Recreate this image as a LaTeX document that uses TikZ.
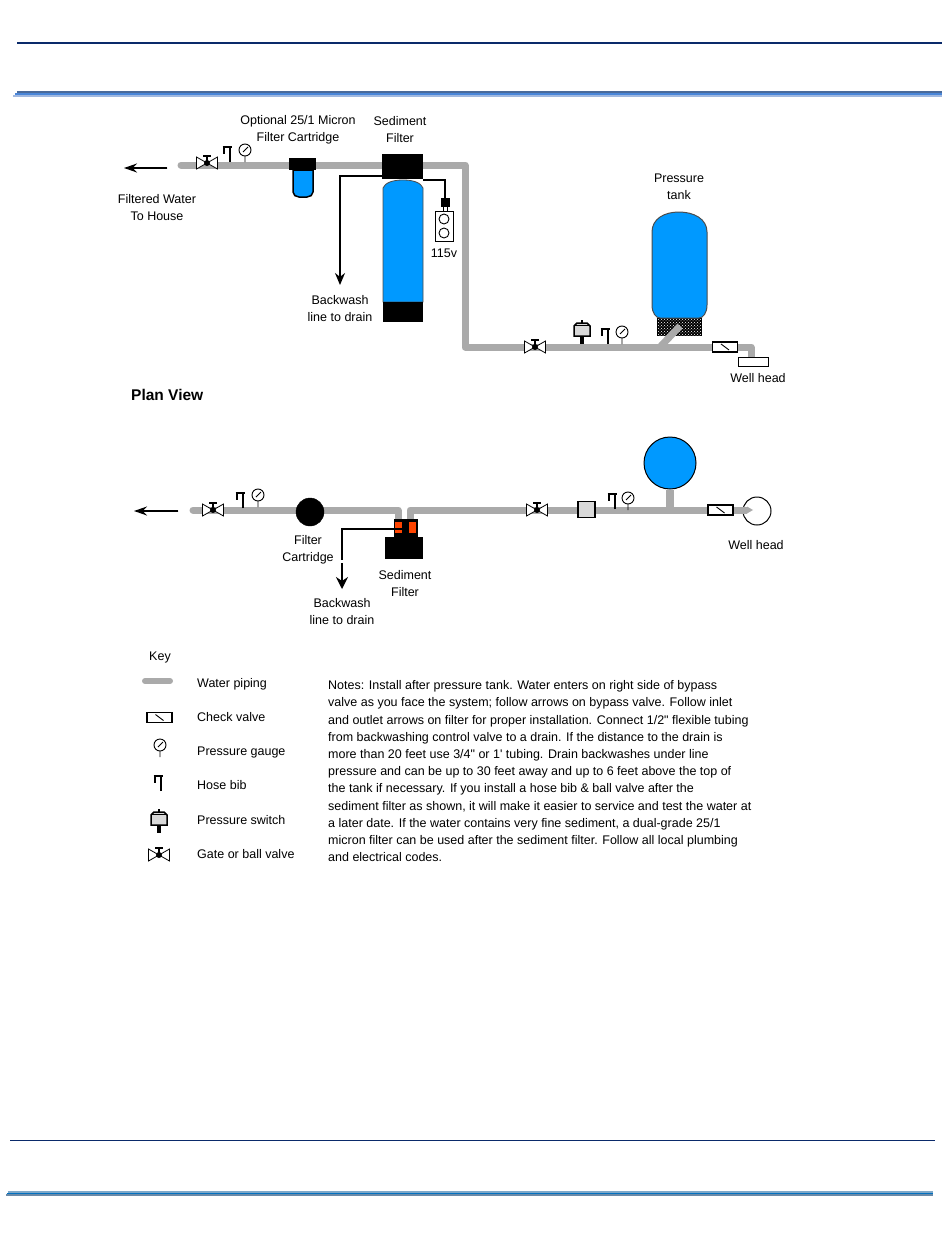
\documentclass[tikz,border=0pt]{standalone}
\usepackage{fontspec}
\setmainfont{Liberation Sans}
\newfontfamily\notefont{Liberation Sans}
\usepackage{xcolor}
\usepackage{tikz}
\usetikzlibrary{arrows.meta, patterns}
\definecolor{waterblue}{HTML}{0099FF}
\definecolor{pipegray}{HTML}{AAAAAA}
\definecolor{portred}{HTML}{FF4400}
\definecolor{navy}{HTML}{0A2A6A}
\definecolor{ruletopa}{HTML}{4A6A9A}
\definecolor{ruletopb}{HTML}{4A86D8}
\definecolor{ruletopc}{HTML}{A0B8E0}
\definecolor{rulelowa}{HTML}{7FA8C8}
\definecolor{rulelowb}{HTML}{0070C0}
\definecolor{rulelowc}{HTML}{6A8AA8}

\begin{document}
\begin{tikzpicture}[
  x=1pt, y=-1pt,
  lbl/.style={font=\fontsize{12.5}{17}\selectfont, align=center, inner sep=0pt},
  keylbl/.style={lbl, anchor=base west},
  pipe/.style={draw=pipegray, line width=7pt, line join=round, line cap=round},
  wire/.style={draw=black, line width=1.3pt},
  drain/.style={wire, -{Stealth[length=12pt,width=10pt]}},
  blackbox/.style={rectangle, fill=black, inner sep=0pt},
  gatevalve/.pic={
    \draw[black, fill=white, line width=.8pt] (-10.5,-6) -- (0,0) -- (-10.5,6) -- cycle;
    \draw[black, fill=white, line width=.8pt] (10.5,-6) -- (0,0) -- (10.5,6) -- cycle;
    \draw[black, line width=1.5pt] (-10.5,-6) -- (-10.5,6) (10.5,-6) -- (10.5,6);
    \draw[black, line width=1.2pt] (0,0) -- (0,-7) (-4,-7) -- (4,-7);
    \fill[black] (0,0) circle (3);
  },
  hosebib/.pic={
    \draw[black, line width=1.2pt] (0,0) -- (0,-15) (-7.5,-15) -- (1.5,-15) (-6,-15) -- (-6,-8);
  },
  gaugedial/.pic={
    \draw[black, line width=.9pt, fill=white] (0,0) circle (6);
    \draw[black, line width=.9pt] (0,6) -- (0,12) (-2,2) -- (3,-3);
  },
  checkvalve/.pic={
    \draw[black, line width=1.2pt, fill=white] (-12.5,-5) rectangle (12.5,5);
    \draw[black, line width=.9pt] (-4,-3) -- (4,3);
  },
  pressswitch/.pic={
    \fill[black] (-2,0) rectangle (2,-10);
    \draw[black, line width=1.5pt, fill=black!15] (-8,-8) -- (-8,-18) -- (-5,-21) -- (5,-21) -- (8,-18) -- (8,-8) -- cycle;
    \draw[black, line width=1.2pt] (-8,-18.5) -- (8,-18.5);
    \fill[black] (-1,-24) rectangle (1,-21);
  }
]
  \useasboundingbox (0,0) rectangle (950,1236);

  % page rules
  \draw[navy, line width=2pt] (17,43) -- (942,43);
  \draw[ruletopa, line width=2pt] (17,92.3) -- (942,92.3);
  \draw[ruletopb, line width=1.7pt] (15,94.2) -- (942,94.2);
  \draw[ruletopc, line width=1.7pt] (13,95.8) -- (942,95.8);
  \draw[navy, line width=1.5pt] (10,1140.5) -- (935,1140.5);
  \draw[rulelowa, line width=1.7pt] (8,1191.8) -- (933,1191.8);
  \draw[rulelowb, line width=1.4pt] (7,1193.3) -- (933,1193.3);
  \draw[rulelowc, line width=2pt] (6,1195) -- (933,1195);

  % elevation
  \coordinate (topin) at (181,165);
  \coordinate (topcorner) at (465,165);
  \coordinate (lowcorner) at (465,347);
  \coordinate (wellcorner) at (751,347);
  \coordinate (wellend) at (751,357);
  \draw[pipe] (topin) -- (topcorner) -- (lowcorner) -- (wellcorner) -- (wellend);

  \coordinate (tanktee) at (660,347);
  \coordinate (tanktap) at (680,326);
  \fill[black] (657,318) rectangle (702,336);
  \fill[pattern=crosshatch dots, pattern color=white] (658,318) rectangle (701,335);
  \draw[pipe, line cap=butt] (tanktee) -- (tanktap);
  \draw[draw=black!70, line width=1pt, fill=waterblue] (652,305) -- (652,232)
    .. controls (652,219) and (664,212) .. (679,212)
    .. controls (694,212) and (707,219) .. (707,232) -- (707,305)
    .. controls (707,313) and (703,318) .. (699,318) -- (660,318)
    .. controls (656,318) and (652,313) .. (652,305) -- cycle;

  \draw[black, line width=1.5pt, fill=waterblue] (293,170) -- (293,192)
    .. controls (293,195) and (296,197) .. (299,197) -- (307,197)
    .. controls (310,197) and (313,195) .. (313,192) -- (313,170) -- cycle;
  \node[blackbox, minimum width=27pt, minimum height=12pt] (cartridgehead) at (302.5,164) {};

  \draw[draw=black!70, line width=.8pt, fill=waterblue] (383,302) -- (383,188) .. controls (385,183) and (392,180) .. (403,180)
    .. controls (414,180) and (421,183) .. (423,188) -- (423,302) -- cycle;
  \node[blackbox, minimum width=41pt, minimum height=25pt] (sedhead) at (402.5,166.5) {};
  \node[blackbox, minimum width=40pt, minimum height=20pt] (sedbase) at (403,312) {};

  \coordinate (drainbend) at (340,176);
  \coordinate (drainend) at (340,285);
  \draw[drain] (sedhead.west |- drainbend) -- (drainbend) -- (drainend);

  \node[draw=black, fill=white, line width=1pt, minimum width=18pt, minimum height=30pt, inner sep=0pt] (outlet) at (444,226) {};
  \node[draw=black, circle, line width=.9pt, minimum size=10pt, inner sep=0pt] (socketa) at (444,219) {};
  \node[draw=black, circle, line width=.9pt, minimum size=10pt, inner sep=0pt] (socketb) at (444,233) {};
  \node[blackbox, minimum width=9pt, minimum height=9pt] (plug) at (445,202.5) {};
  \coordinate (cordbend) at (445,180);
  \draw[wire] (sedhead.south east |- cordbend) -- (cordbend) -- (plug);
  \draw[black, line width=.8pt] (443,207) -- (443,211) (447,207) -- (447,211);

  \node[blackbox, minimum width=0pt] (arrowstart) at (167,168) {};
  \coordinate (houseend) at (124,168);
  \draw[wire, -{Stealth[length=13pt,width=9pt]}] (arrowstart) -- (houseend);

  \pic at (207,163) {gatevalve};
  \pic at (230,162) {hosebib};
  \pic at (245,150) {gaugedial};
  \pic at (535,347) {gatevalve};
  \pic at (582,344) {pressswitch};
  \pic at (608,344) {hosebib};
  \pic at (622,332) {gaugedial};
  \pic at (725,347) {checkvalve};
  \node[draw=black, fill=white, line width=1.5pt, minimum width=30pt, minimum height=9pt, inner sep=0pt] (wellbox) at (753.5,362) {};

  \node[lbl] (micronlbl) at (298,130) {Optional 25/1 Micron\\Filter Cartridge};
  \node[lbl] (sedlbl) at (400,130) {Sediment\\Filter};
  \node[lbl] (houselbl) at (157,207.5) {Filtered Water\\To House};
  \node[lbl] (voltlbl) at (444,253) {115v};
  \node[lbl] (drainlbl) at (340,308.5) {Backwash\\line to drain};
  \node[lbl] (tanklbl) at (679,186.5) {Pressure\\tank};
  \node[lbl] (welllbl) at (758,378) {Well head};

  % plan view
  \node[font=\fontsize{15.5}{17}\selectfont\bfseries, anchor=west, inner sep=0pt] (planlbl) at (131,395) {Plan View};

  \coordinate (planin) at (193,510);
  \coordinate (planleftcorner) at (398,510);
  \coordinate (planleftend) at (398,522);
  \coordinate (planrightend) at (410,522);
  \coordinate (planrightcorner) at (410,510);
  \coordinate (planwell) at (753,510);
  \node[draw=black, circle, fill=white, line width=1pt, minimum size=28pt, inner sep=0pt] (planwellhead) at (757,511) {};
  \draw[pipe, line cap=butt] (planwell) ++(-6,0) -- (planrightcorner);
  \draw[pipe] (planin) -- (planleftcorner) -- (planleftend);
  \draw[pipe] (planrightend) -- (planrightcorner) -- ++(20,0);
  \fill[pipegray] (747,506.5) -- (753,510) -- (747,513.5) -- cycle;

  \node[draw=black, circle, fill=black, minimum size=28pt, inner sep=0pt] (plancartridge) at (310,512) {};
  \node[blackbox, minimum width=38pt, minimum height=22pt] (plansedbase) at (404,548) {};
  \node[blackbox, minimum width=24pt, minimum height=19pt] (plansedtop) at (406,528.5) {};
  \node[rectangle, fill=portred, minimum width=7pt, minimum height=11pt, inner sep=0pt] (planporta) at (398.5,527.5) {};
  \node[rectangle, fill=portred, minimum width=7pt, minimum height=11pt, inner sep=0pt] (planportb) at (412.5,527.5) {};
  \coordinate (planbend) at (342,529);
  \coordinate (plangapa) at (342,560);
  \coordinate (plangapb) at (342,563);
  \coordinate (plandrainend) at (342,589);
  \draw[wire] (planporta.east |- planbend) -- (planbend) -- (plangapa);
  \draw[wire, -{Stealth[length=12pt,width=12pt]}] (plangapb) -- (plandrainend);

  \node[blackbox, minimum width=0pt] (planarrowstart) at (178,511) {};
  \coordinate (planhouseend) at (134,511);
  \draw[wire, -{Stealth[length=13pt,width=9pt]}] (planarrowstart) -- (planhouseend);

  \node[draw=black, circle, fill=waterblue, line width=1pt, minimum size=52pt, inner sep=0pt] (plantank) at (670,463) {};
  \coordinate (plantee) at (670,510);
  \draw[pipegray, line width=8pt] (plantank.south) -- (plantee);
  \node[draw=black, fill=black!15, line width=1.5pt, minimum width=17pt, minimum height=16pt, inner sep=0pt] (planswitch) at (586.5,509.5) {};

  \pic at (213,510) {gatevalve};
  \pic at (243,508) {hosebib};
  \pic at (258,495) {gaugedial};
  \pic at (537,510) {gatevalve};
  \pic at (615,509) {hosebib};
  \pic at (628,498) {gaugedial};
  \pic at (720.5,510) {checkvalve};

  \node[lbl] (planfilterlbl) at (308,550) {Filter\\Cartridge};
  \node[lbl] (plansedlbl) at (405,583.5) {Sediment\\Filter};
  \node[lbl] (plandrainlbl) at (342,611.5) {Backwash\\line to drain};
  \node[lbl] (planwelllbl) at (756,545) {Well head};

  % key
  \node[lbl] (keytitle) at (160,657) {Key};
  \coordinate (keypipea) at (145,681);
  \coordinate (keypipeb) at (170,681);
  \draw[pipegray, line width=6pt, line cap=round] (keypipea) -- (keypipeb);
  \pic at (159.5,717.5) {checkvalve};
  \pic at (160,745) {gaugedial};
  \pic at (161,791) {hosebib};
  \pic at (159,833) {pressswitch};
  \pic at (159,855) {gatevalve};

  \node[keylbl] (keypipe) at (197,687) {Water piping};
  \node[keylbl] (keycheck) at (197,721) {Check valve};
  \node[keylbl] (keygauge) at (197,755) {Pressure gauge};
  \node[keylbl] (keybib) at (197,789) {Hose bib};
  \node[keylbl] (keyswitch) at (197,824) {Pressure switch};
  \node[keylbl] (keyvalve) at (197,858) {Gate or ball valve};

  % notes
  \node[anchor=north west, inner sep=0pt, align=left, font=\notefont\fontsize{12.5}{17.2}\selectfont] (notes) at (328,680.5) {Notes: Install after pressure tank. Water enters on right side of bypass\\
valve as you face the system; follow arrows on bypass valve. Follow inlet\\
and outlet arrows on filter for proper installation. Connect 1/2" flexible tubing\\
from backwashing control valve to a drain. If the distance to the drain is\\
more than 20 feet use 3/4" or 1' tubing. Drain backwashes under line\\
pressure and can be up to 30 feet away and up to 6 feet above the top of\\
the tank if necessary. If you install a hose bib \& ball valve after the\\
sediment filter as shown, it will make it easier to service and test the water at\\
a later date.  If the water contains very fine sediment, a dual-grade 25/1\\
micron filter can be used after the sediment filter.  Follow all local plumbing\\
and electrical codes.};
\end{tikzpicture}
\end{document}
